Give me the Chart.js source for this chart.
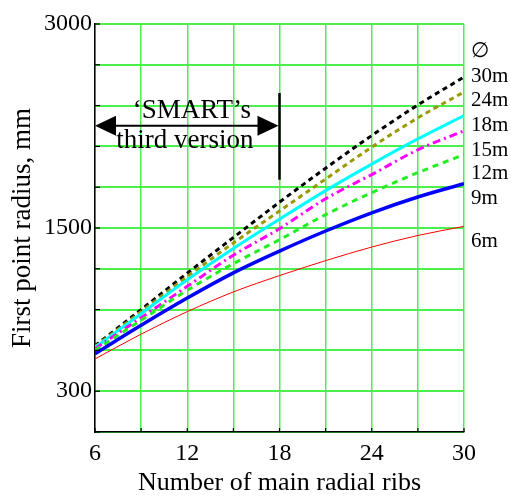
<!DOCTYPE html>
<html>
<head>
<meta charset="utf-8">
<script src="https://cdn.jsdelivr.net/npm/chart.js@4.4.1/dist/chart.umd.min.js"></script>
<style>
  html, body { margin: 0; padding: 0; background: #fff; }
  #wrap { width: 511px; height: 499px; }
</style>
</head>
<body>
<div id="wrap"><canvas id="myChart" width="511" height="499"></canvas></div>
<script>
// number of main radial ribs
var ribs = [6, 9, 12, 15, 18, 21, 24, 27, 30];

// first point radius (mm) for each dish diameter
var r30m = [634, 900, 1168, 1430, 1690, 1940, 2180, 2405, 2610];
var r24m = [627, 885, 1142, 1390, 1625, 1860, 2095, 2310, 2500];
var r18m = [623, 870, 1120, 1350, 1565, 1775, 1970, 2155, 2326];
var r15m = [612, 840, 1071, 1300, 1495, 1715, 1893, 2075, 2215];
var r12m = [601, 822, 1042, 1238, 1414, 1598, 1760, 1907, 2040];
var r9m  = [576, 785, 985, 1170, 1330, 1478, 1612, 1728, 1826];
var r6m  = [537, 720, 885, 1030, 1150, 1260, 1360, 1445, 1512];

var yLabels = [300, 1500, 3000];
var xLabels = [6, 12, 18, 24, 30];

// right hand side labels and where they sit (in mm on the y scale)
var sideLabels = ['\u2205', '30m', '24m', '18m', '15m', '12m', '9m', '6m'];
var sideLabelAt = [2800, 2612, 2436, 2253, 2070, 1900, 1717, 1401];

var serif = '"Liberation Serif", "Times New Roman", serif';
var gridGreen = '#4def4d';

function pts(arr) {
  return arr.map(function (v, i) { return { x: ribs[i], y: v }; });
}

// black tick marks pointing into the plot
var innerTicks = {
  id: 'innerTicks',
  afterDraw: function (chart) {
    var c = chart.ctx, a = chart.chartArea, x = chart.scales.x, y = chart.scales.y;
    c.save();
    c.strokeStyle = '#000';
    c.lineWidth = 1.2;
    for (var v = 6; v <= 30; v += 3) {
      var px = x.getPixelForValue(v);
      c.beginPath(); c.moveTo(px, a.bottom); c.lineTo(px, a.bottom - 4); c.stroke();
    }
    for (var w = 0; w <= 3000; w += 300) {
      var py = y.getPixelForValue(w);
      c.beginPath(); c.moveTo(a.left, py); c.lineTo(a.left + 5, py); c.stroke();
    }
    c.restore();
  }
};

// the 'SMART's third version' arrow and the diameter labels
var notes = {
  id: 'notes',
  afterDraw: function (chart) {
    var c = chart.ctx, a = chart.chartArea, x = chart.scales.x, y = chart.scales.y;
    c.save();
    c.fillStyle = '#000';
    c.strokeStyle = '#000';

    var x0 = x.getPixelForValue(6), x1 = x.getPixelForValue(18);
    var ay = y.getPixelForValue(2252);
    c.lineWidth = 2;
    c.beginPath(); c.moveTo(x0 + 18, ay); c.lineTo(x1 - 18, ay); c.stroke();
    c.beginPath(); c.moveTo(x0, ay); c.lineTo(x0 + 21, ay - 10); c.lineTo(x0 + 21, ay + 10); c.closePath(); c.fill();
    c.beginPath(); c.moveTo(x1 - 1, ay); c.lineTo(x1 - 22, ay - 10); c.lineTo(x1 - 22, ay + 10); c.closePath(); c.fill();
    c.lineWidth = 2.5;
    c.beginPath(); c.moveTo(x1, y.getPixelForValue(2493)); c.lineTo(x1, y.getPixelForValue(1855)); c.stroke();

    c.font = '27px ' + serif;
    c.textAlign = 'center';
    c.textBaseline = 'alphabetic';
    c.fillText('\u2018SMART\u2019s', x.getPixelForValue(12.3), ay - 8);
    c.fillText('third version', x.getPixelForValue(11.85), ay + 22);

    c.font = '21px ' + serif;
    c.textAlign = 'left';
    c.textBaseline = 'middle';
    sideLabels.forEach(function (t, i) {
      c.fillText(t, a.right + 7, y.getPixelForValue(sideLabelAt[i]));
    });
    c.restore();
  }
};

var ctx = document.getElementById('myChart').getContext('2d');
var chart = new Chart(ctx, {
  type: 'line',
  data: {
    datasets: [
      { label: '6m', data: pts(r6m), borderColor: '#ff0000', borderWidth: 1 },
      { label: '9m', data: pts(r9m), borderColor: '#0000ff', borderWidth: 3.5 },
      { label: '12m', data: pts(r12m), borderColor: '#22ee22', borderWidth: 3, borderDash: [6, 5] },
      { label: '15m', data: pts(r15m), borderColor: '#ff00ff', borderWidth: 3, borderDash: [8, 4, 2, 4] },
      { label: '18m', data: pts(r18m), borderColor: '#00ffff', borderWidth: 3 },
      { label: '24m', data: pts(r24m), borderColor: '#999900', borderWidth: 3, borderDash: [5, 4] },
      { label: '30m', data: pts(r30m), borderColor: '#000000', borderWidth: 3, borderDash: [5, 4] }
    ]
  },
  options: {
    responsive: false,
    animation: false,
    events: [],
    layout: { padding: { top: 24, right: 47, left: 0, bottom: 0 } },
    elements: {
      point: { radius: 0 },
      line: { tension: 0.4, cubicInterpolationMode: 'monotone', fill: false, borderCapStyle: 'butt' }
    },
    plugins: { legend: { display: false }, tooltip: { enabled: false } },
    scales: {
      x: {
        type: 'linear', min: 6, max: 30,
        afterFit: function (s) { s.height = 67; },
        ticks: {
          stepSize: 3, color: '#000', padding: 7,
          font: { family: serif, size: 24 },
          callback: function (v) { return xLabels.indexOf(v) >= 0 ? String(v) : ''; }
        },
        grid: { color: gridGreen, lineWidth: 1.5, drawTicks: false },
        border: { color: '#000', width: 1.5 },
        title: { display: true, text: 'Number of main radial ribs', color: '#000',
                 font: { family: serif, size: 26 }, padding: { top: 0, bottom: 0 } }
      },
      y: {
        type: 'linear', min: 0, max: 3000,
        afterFit: function (s) { s.width = 95; },
        ticks: {
          stepSize: 300, color: '#000', padding: 3,
          font: { family: serif, size: 24 },
          callback: function (v) { return yLabels.indexOf(v) >= 0 ? String(v) : ''; }
        },
        grid: { color: gridGreen, lineWidth: 2, drawTicks: false },
        border: { color: '#000', width: 1.5 },
        title: { display: true, text: 'First point radius, mm', color: '#000',
                 font: { family: serif, size: 27 }, padding: { top: 7, bottom: 0 } }
      }
    }
  },
  plugins: [innerTicks, notes]
});
</script>
</body>
</html>
